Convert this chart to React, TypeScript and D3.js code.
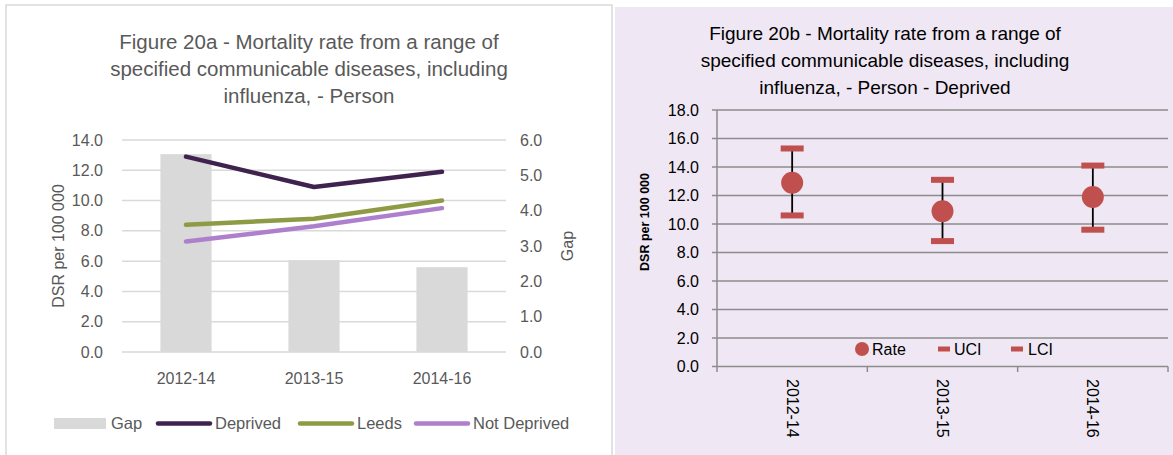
import React from 'react';
import * as d3 from 'd3';

const categories = ['2012-14', '2013-15', '2014-16'];
const gapValues = [5.6, 2.6, 2.4];
const deprivedValues = [12.9, 10.9, 11.9];
const leedsValues = [8.4, 8.8, 10.0];
const notDeprivedValues = [7.3, 8.3, 9.5];
const leftTicks = [0, 2, 4, 6, 8, 10, 12, 14];
const gapTicks = [0, 1, 2, 3, 4, 5, 6];

const rateValues = [12.9, 10.9, 11.9];
const uciValues = [15.3, 13.1, 14.1];
const lciValues = [10.6, 8.8, 9.6];
const rightTicks = [0, 2, 4, 6, 8, 10, 12, 14, 16, 18];

const titleA = [
  'Figure 20a - Mortality rate from a range of',
  'specified communicable diseases, including',
  'influenza, - Person',
];
const titleB = [
  'Figure 20b - Mortality rate from a range of',
  'specified communicable diseases, including',
  'influenza, - Person - Deprived',
];

const FONT = '"Liberation Sans", Arial, sans-serif';
const GREY_TEXT = '#595959';

const lineSeries = [
  { name: 'Deprived', values: deprivedValues, color: '#40224f' },
  { name: 'Leeds', values: leedsValues, color: '#8f9a44' },
  { name: 'Not Deprived', values: notDeprivedValues, color: '#ae7fcd' },
];

export default function App() {
  // Left chart scales
  const xL = d3.scaleBand<string>().domain(categories).range([122, 506]);
  const yL = d3.scaleLinear().domain([0, 14]).range([352, 140]);
  const yG = d3.scaleLinear().domain([0, 6]).range([352, 140]);
  const barW = xL.bandwidth() * 0.4;
  const cx = (c: string) => (xL(c) as number) + xL.bandwidth() / 2;
  const lineGen = d3
    .line<number>()
    .x((_, i) => cx(categories[i]))
    .y((v) => yL(v))
    .curve(d3.curveLinear);

  // Right chart scales
  const xB = d3.scaleBand<string>().domain(categories).range([717, 1168]);
  const yB = d3.scaleLinear().domain([0, 18]).range([366.5, 110]);
  const bx = (c: string) => (xB(c) as number) + xB.bandwidth() / 2;
  const boundaries = [...categories.map((c) => xB(c) as number), 1168];

  const legendItems = [
    { kind: 'bar', name: 'Gap', x: 54, tx: 111 },
    { kind: 'line', name: 'Deprived', x: 156, tx: 215, color: lineSeries[0].color },
    { kind: 'line', name: 'Leeds', x: 298, tx: 357, color: lineSeries[1].color },
    { kind: 'line', name: 'Not Deprived', x: 414, tx: 473, color: lineSeries[2].color },
  ];

  return (
    <svg
      width={1173}
      height={455}
      style={{ position: 'absolute', left: 0, top: 0, background: '#ffffff' }}
      fontFamily={FONT}
    >
      {/* Left panel */}
      <rect x={6} y={5} width={606} height={460} fill="#ffffff" stroke="#d9d9d9" strokeWidth={1.5} />
      {titleA.map((t, i) => (
        <text key={i} x={309} y={49 + i * 27} textAnchor="middle" fontSize={20.5} fill={GREY_TEXT}>
          {t}
        </text>
      ))}
      {leftTicks.map((t) => (
        <g key={t}>
          <line x1={122} x2={506} y1={yL(t)} y2={yL(t)} stroke="#d9d9d9" strokeWidth={1.5} />
          <text x={103} y={yL(t)} dy="0.35em" textAnchor="end" fontSize={16} fill={GREY_TEXT}>
            {t.toFixed(1)}
          </text>
        </g>
      ))}
      {gapTicks.map((t) => (
        <text key={t} x={520} y={yG(t)} dy="0.35em" textAnchor="start" fontSize={16} fill={GREY_TEXT}>
          {t.toFixed(1)}
        </text>
      ))}
      {categories.map((c, i) => (
        <rect
          key={c}
          x={cx(c) - barW / 2}
          y={yG(gapValues[i])}
          width={barW}
          height={yG(0) - yG(gapValues[i])}
          fill="#d9d9d9"
        />
      ))}
      {lineSeries.map((s) => (
        <path
          key={s.name}
          d={lineGen(s.values) as string}
          fill="none"
          stroke={s.color}
          strokeWidth={4.5}
          strokeLinecap="round"
          strokeLinejoin="round"
        />
      ))}
      {categories.map((c) => (
        <text key={c} x={cx(c)} y={378} dy="0.35em" textAnchor="middle" fontSize={16} fill={GREY_TEXT}>
          {c}
        </text>
      ))}
      <text
        transform={`translate(58,${(yL(0) + yL(14)) / 2}) rotate(-90)`}
        textAnchor="middle"
        dy="0.35em"
        fontSize={16}
        fill={GREY_TEXT}
      >
        DSR per 100 000
      </text>
      <text
        transform={`translate(567,${(yL(0) + yL(14)) / 2}) rotate(-90)`}
        textAnchor="middle"
        dy="0.35em"
        fontSize={16}
        fill={GREY_TEXT}
      >
        Gap
      </text>
      {legendItems.map((l) =>
        <g key={l.name}>
          {l.kind === 'bar' ? (
            <rect x={l.x} y={418} width={52} height={11} fill="#d9d9d9" />
          ) : (
            <line x1={l.x + 2} x2={l.x + 54} y1={423.5} y2={423.5} stroke={l.color} strokeWidth={4.5} strokeLinecap="round" />
          )}
          <text x={l.tx} y={423.5} dy="0.35em" fontSize={16.5} fill={GREY_TEXT}>
            {l.name}
          </text>
        </g>
      )}

      {/* Right panel */}
      <rect x={615} y={7} width={570} height={460} fill="#efe7f4" />
      {titleB.map((t, i) => (
        <text key={i} x={885} y={40 + i * 27} textAnchor="middle" fontSize={19} fill="#000000">
          {t}
        </text>
      ))}
      {rightTicks.map((t) => (
        <g key={t}>
          <line x1={712} x2={1168} y1={yB(t)} y2={yB(t)} stroke="#8c8c8c" strokeWidth={1.5} />
          <text x={699} y={yB(t)} dy="0.35em" textAnchor="end" fontSize={16} fill="#000000">
            {t.toFixed(1)}
          </text>
        </g>
      ))}
      <line x1={717} x2={717} y1={yB(18)} y2={yB(0)} stroke="#8c8c8c" strokeWidth={1.5} />
      {boundaries.map((b, i) => (
        <line key={i} x1={b} x2={b} y1={yB(0)} y2={yB(0) + 5.5} stroke="#8c8c8c" strokeWidth={1.5} />
      ))}
      {categories.map((c, i) => (
        <g key={c}>
          <line x1={bx(c)} x2={bx(c)} y1={yB(lciValues[i])} y2={yB(uciValues[i])} stroke="#000000" strokeWidth={1.8} />
          <rect x={bx(c) - 11.5} y={yB(uciValues[i]) - 3} width={23} height={6} fill="#c0504d" />
          <rect x={bx(c) - 11.5} y={yB(lciValues[i]) - 3} width={23} height={6} fill="#c0504d" />
          <circle cx={bx(c)} cy={yB(rateValues[i])} r={11} fill="#c0504d" />
          <text
            transform={`translate(${bx(c)},379) rotate(90)`}
            textAnchor="start"
            dy="0.35em"
            fontSize={16}
            fill="#000000"
          >
            {c}
          </text>
        </g>
      ))}
      <text
        transform={`translate(645,222) rotate(-90)`}
        textAnchor="middle"
        dy="0.35em"
        fontSize={12.5}
        fontWeight="bold"
        fill="#000000"
      >
        DSR per 100 000
      </text>
      {/* Right legend */}
      <circle cx={862} cy={349} r={7} fill="#c0504d" />
      <text x={872} y={349} dy="0.35em" fontSize={16} fill="#000000">Rate</text>
      <rect x={938} y={346.5} width={12} height={5} fill="#c0504d" />
      <text x={954} y={349} dy="0.35em" fontSize={16} fill="#000000">UCI</text>
      <rect x={1011} y={346.5} width={12} height={5} fill="#c0504d" />
      <text x={1028} y={349} dy="0.35em" fontSize={16} fill="#000000">LCI</text>
    </svg>
  );
}
